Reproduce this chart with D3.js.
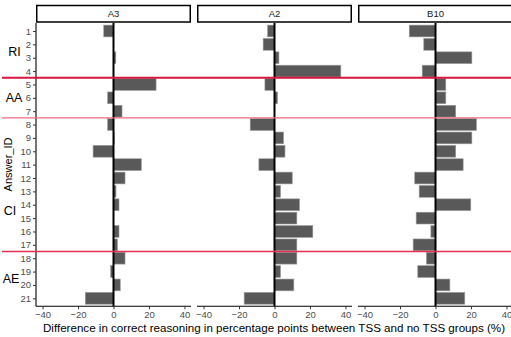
<!DOCTYPE html>
<html><head><meta charset="utf-8">
<script src="https://cdn.jsdelivr.net/npm/d3@7"></script>
<style>body{margin:0;background:#fff}svg{display:block}</style>
</head><body>
<script>
const answerIds = d3.range(1, 22);
const panels = ["A3", "A2", "B10"];
const valuesA3  = [-5.5, 0, 1.3, 0, 24, -3.3, 4.8, -3.3, 0.4, -11.5, 15.7, 6.5, 1.4, 3.1, 0, 3.1, 2.2, 6.5, -1.6, 3.8, -15.9];
const valuesA2  = [-3.9, -6.4, 2.5, 37.4, -5.4, 1.7, 0, -13.7, 5.1, 5.9, -8.8, 10, 3.4, 14.1, 12.6, 21.6, 12.6, 12.6, 3.4, 10.9, -17.1];
const valuesB10 = [-14.8, -6.6, 20.5, -7.5, 5.8, 5.8, 11.4, 23.1, 20.5, 11.4, 15.6, -11.7, -9.2, 19.9, -10.9, -2.6, -12.6, -5.1, -10, 8.1, 16.5];
const xTicks = [-40, -20, 0, 20, 40];
const groupNames = ["RI", "AA", "CI", "AE"];
const groupLabelRows = [2.5, 6, 14.4, 19.5];
const groupBreaks = [4.5, 7.5, 17.5];
const xTitle = "Difference in correct reasoning in percentage points between TSS and no TSS groups (%)";
const yTitle = "Answer_ID";

const series = {A3: valuesA3, A2: valuesA2, B10: valuesB10};
const W = 511, H = 337;
const font = "'Liberation Sans', Arial, Helvetica, sans-serif";
const svg = d3.select("body").append("svg").attr("width", W).attr("height", H)
  .style("font-family", font);

const panelTop = 23, panelBottom = 306.3;
const panelW = 155, gap = 6, firstLeft = 36;
const y = d3.scalePoint().domain(answerIds).range([31, 298.3]);
const step = y.step();
const yRow = r => y(1) + (r - 1) * step;
const barH = step * 0.88;

panels.forEach((p, i) => {
  const left = firstLeft + i * (panelW + gap);
  const x = d3.scaleLinear().domain([-43.7, 43.7]).range([left, left + panelW]);
  const g = svg.append("g");
  g.selectAll("rect.bar").data(series[p].map((v, k) => ({id: answerIds[k], v})))
    .join("rect").attr("class", "bar")
    .attr("x", d => x(Math.min(0, d.v)))
    .attr("width", d => Math.abs(x(d.v) - x(0)))
    .attr("y", d => y(d.id) - barH / 2)
    .attr("height", barH)
    .attr("fill", "#595959")
    .attr("stroke", d => d.v === 0 ? "none" : "#9a9a9a")
    .attr("stroke-width", 0.6);
  g.append("line").attr("x1", x(0)).attr("x2", x(0))
    .attr("y1", panelTop).attr("y2", panelBottom)
    .attr("stroke", "#000").attr("stroke-width", 2);
  const ax = g.append("g").attr("transform", `translate(0,${panelBottom})`)
    .call(d3.axisBottom(x).tickValues(xTicks).tickSize(3).tickPadding(2)
      .tickFormat(d => d < 0 ? "\u2212" + Math.abs(d) : d));
  ax.select(".domain").attr("stroke", "#000").attr("stroke-width", 1.1)
    .attr("d", `M${left},0H${left + panelW}`);
  ax.selectAll(".tick line").attr("stroke", "#333");
  ax.selectAll(".tick text").attr("fill", "#4d4d4d").attr("font-size", 9.5)
    .attr("font-family", font);
  g.append("rect").attr("x", left + 0.75).attr("y", 5.5)
    .attr("width", panelW - 1.5).attr("height", 16.5)
    .attr("fill", "#fff").attr("stroke", "#000").attr("stroke-width", 1.5);
  g.append("text").attr("x", left + panelW / 2).attr("y", 17.3)
    .attr("text-anchor", "middle").attr("font-size", 9.5).attr("fill", "#1a1a1a")
    .text(p);
});

const yAx = svg.append("g").attr("transform", `translate(${firstLeft},0)`)
  .call(d3.axisLeft(y).tickSize(3).tickPadding(2));
yAx.select(".domain").attr("stroke", "#000").attr("stroke-width", 1.1)
  .attr("d", `M0,${panelTop}V${panelBottom}`);
yAx.selectAll(".tick line").attr("stroke", "#333");
yAx.selectAll(".tick text").attr("fill", "#4d4d4d").attr("font-size", 9.5)
  .attr("font-family", font);

const breakStyles = [
  {w: 2, c: "#dc143c"},
  {w: 1.3, c: "#ee6b82"},
  {w: 1.3, c: "#e2304e"}
];
groupBreaks.forEach((b, i) => {
  svg.append("line").attr("x1", 2).attr("x2", W)
    .attr("y1", yRow(b)).attr("y2", yRow(b))
    .style("stroke", breakStyles[i].c).style("stroke-width", breakStyles[i].w);
});

const labelX = [14.5, 14, 10, 11];
groupNames.forEach((n, i) => {
  svg.append("text").attr("x", labelX[i]).attr("y", yRow(groupLabelRows[i]) + 4.5)
    .attr("text-anchor", "middle").attr("font-size", 12.5).attr("fill", "#000")
    .text(n);
});

svg.append("text").attr("transform", `translate(12,164.5) rotate(-90)`)
  .attr("text-anchor", "middle").attr("font-size", 11).attr("fill", "#000")
  .text(yTitle);
svg.append("text").attr("x", 274).attr("y", 331.5)
  .attr("text-anchor", "middle").attr("font-size", 11.6).attr("fill", "#000")
  .text(xTitle);
</script>
</body></html>
